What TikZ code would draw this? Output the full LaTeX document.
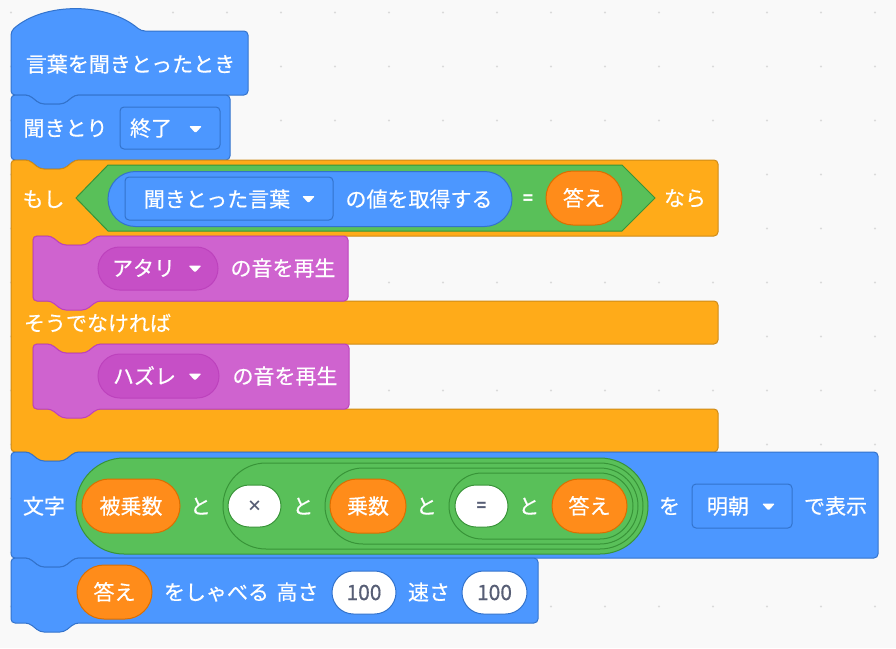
\documentclass[tikz,border=0pt]{standalone}
\usepackage{fontspec}
\setmainfont{Noto Sans CJK JP}
\newfontfamily\jpmed{Noto Sans CJK JP}[FakeBold=0.5]
\usetikzlibrary{shapes.misc}

\definecolor{bgGray}{HTML}{F9F9F9}
\definecolor{dotGray}{HTML}{DADADA}
\definecolor{blueMain}{HTML}{4C97FF}
\definecolor{blueDark}{HTML}{3373CC}
\definecolor{ctrlMain}{HTML}{FFAB19}
\definecolor{ctrlDark}{HTML}{CF8B17}
\definecolor{sndMain}{HTML}{CF63CF}
\definecolor{sndMenu}{HTML}{C64FC6}
\definecolor{sndDark}{HTML}{BD42BD}
\definecolor{opMain}{HTML}{59C059}
\definecolor{opDark}{HTML}{389438}
\definecolor{varMain}{HTML}{FF8C1A}
\definecolor{varDark}{HTML}{DB6E00}
\definecolor{inText}{HTML}{575E75}

\newcommand{\jpsize}{\jpmed\fontsize{21}{21}\selectfont}
% notch on a block top (left to right) and tab on a block bottom (right to left)
\newcommand{\notchR}[2]{-- (#1+18,#2) -- (#1+29,#2+9) -- (#1+53,#2+9) -- (#1+64,#2)}
\newcommand{\notchL}[2]{-- (#1+64,#2) -- (#1+53,#2+9) -- (#1+29,#2+9) -- (#1+18,#2)}
\newcommand{\ddarrow}[2]{\fill[ddtri] (#1-6.5,#2-3.5) -- ++(13,0) -- ++(-6.5,7) -- cycle;}

\tikzset{
  blockblue/.style={fill=blueMain, draw=blueDark, line width=1pt, rounded corners=4pt},
  blockctrl/.style={fill=ctrlMain, draw=ctrlDark, line width=1pt, rounded corners=4pt},
  blocksnd/.style={fill=sndMain, draw=sndDark, line width=1pt, rounded corners=4pt},
  cond/.style={fill=opMain, draw=opDark, line width=1pt},
  lbl/.style={inner sep=0pt, text=white, font=\jpsize, text height=16pt, text depth=0pt},
  varpill/.style={rounded rectangle, inner sep=0pt, fill=varMain, draw=varDark, line width=1pt,
    text=white, font=\jpsize, text height=16pt, text depth=0pt},
  inpill/.style={rounded rectangle, inner sep=0pt, fill=white, draw=#1, line width=1pt,
    text=inText, font=\jpsize, text height=15pt, text depth=0pt},
  joinpill/.style={rounded rectangle, inner sep=0pt, fill=opMain, draw=opDark, line width=1pt},
  ddbox/.style={rectangle, rounded corners=4pt, inner sep=0pt, fill=blueMain, draw=blueDark, line width=1pt},
  ddpill/.style={rounded rectangle, inner sep=0pt, fill=sndMenu, draw=sndDark, line width=1pt},
  ddtri/.style={white, rounded corners=1.2pt},
}

\begin{document}
\begin{tikzpicture}[x=1pt, y=-1pt]
    \fill[bgGray] (0,0) rectangle (896,648);
    \foreach \i in {0,...,16}
        \foreach \j in {0,...,11}
            \fill[dotGray] (11+54*\i, 12.5+54*\j) circle (1.1pt);

    % hat block
    \draw[blockblue] (11,31) .. controls (44,2) and (107,2) .. (141,31) -- (248,31) -- (248,95) \notchL{11}{95} -- (11,95) -- cycle;
    \node[lbl] (whenheard) at (130.5,64) {言葉を聞きとったとき};

    \draw[blockblue] (11,95) \notchR{11}{95} -- (230,95) -- (230,160) \notchL{11}{160} -- (11,160) -- cycle;
    \node[lbl] (listen) at (65.5,128) {聞きとり};
    \node[ddbox, minimum width=100pt, minimum height=42pt] (endmenu) at (170,128) {};
    \node[lbl] (endtx) at (151,128) {終了};
    \ddarrow{195.5}{129.5}

    % if / else
    \draw[blockctrl] (11,160) \notchR{11}{160} -- (718,160) -- (718,236) \notchL{33}{236} -- (33,236) -- (33,301)
        -- (718,301) -- (718,344) \notchL{33}{344} -- (33,344) -- (33,409) -- (718,409) -- (718,452) \notchL{11}{452} -- (11,452) -- cycle;
    \node[lbl] (ifword) at (43.5,199) {もし};
    \draw[cond] (76,198) -- (108,165) -- (622,165) -- (655,198) -- (622,231) -- (108,231) -- cycle;
    \node[rounded rectangle, inner sep=0pt, fill=blueMain, draw=blueDark, line width=1pt,
        minimum width=404pt, minimum height=55pt] (getval) at (310,199) {};
    \node[ddbox, minimum width=208pt, minimum height=43pt] (wordmenu) at (229,198.5) {};
    \node[lbl] (wordtx) at (217,199) {聞きとった言葉};
    \ddarrow{308.5}{199.5}
    \node[lbl] (getvaltx) at (419,199) {の値を取得する};
    \node[lbl, font=\bfseries\fontsize{17}{17}\selectfont, text height=10pt] (eqsign) at (528,199) {=};
    \node[varpill, minimum width=76pt, minimum height=54pt] (answer1) at (584,198) {答え};
    \node[lbl] (thenword) at (685,198) {なら};

    \draw[blocksnd] (33,236) \notchR{33}{236} -- (348,236) -- (348,301) \notchL{33}{301} -- (33,301) -- cycle;
    \node[ddpill, minimum width=120pt, minimum height=43pt] (hitmenu) at (158,268.5) {};
    \node[lbl] (hittx) at (143.5,268) {アタリ};
    \ddarrow{195}{269}
    \node[lbl] (play1) at (283,268) {の音を再生};

    \node[lbl] (elseword) at (97.5,323) {そうでなければ};

    \draw[blocksnd] (33,344) \notchR{33}{344} -- (349,344) -- (349,409) \notchL{33}{409} -- (33,409) -- cycle;
    \node[ddpill, minimum width=121pt, minimum height=44pt] (missmenu) at (158.5,376) {};
    \node[lbl] (misstx) at (144.5,376) {ハズレ};
    \ddarrow{195}{377}
    \node[lbl] (play2) at (285,376) {の音を再生};

    % text display block with nested joins
    \draw[blockblue] (11,452) \notchR{11}{452} -- (878,452) -- (878,558) \notchL{11}{558} -- (11,558) -- cycle;
    \node[lbl] (moji) at (44,506) {文字};
    \node[joinpill, minimum width=572pt, minimum height=96pt] (join1) at (362,506) {};
    \node[varpill, minimum width=98pt, minimum height=54pt] (multiplicand) at (131,506) {被乗数};
    \node[lbl] (to1) at (200.5,506) {と};
    \node[joinpill, minimum width=420pt, minimum height=86pt] (join2) at (433,506) {};
    \node[inpill=opDark, minimum width=53pt, minimum height=42pt, font=\bfseries\fontsize{15}{15}\selectfont, text height=10pt] (times) at (254.5,506) {×};
    \node[lbl] (to2) at (303,506) {と};
    \node[joinpill, minimum width=313pt, minimum height=76pt] (join3) at (481.5,506) {};
    \node[varpill, minimum width=76pt, minimum height=54pt] (multiplier) at (368,506) {乗数};
    \node[lbl] (to3) at (426.5,506) {と};
    \node[joinpill, minimum width=184pt, minimum height=66pt] (join4) at (541,506) {};
    \node[inpill=opDark, minimum width=53pt, minimum height=42pt, font=\bfseries\fontsize{16}{16}\selectfont, text height=10pt] (equals) at (481.5,506) {=};
    \node[lbl] (to4) at (529,506) {と};
    \node[varpill, minimum width=75pt, minimum height=54pt] (answer2) at (589.5,506) {答え};
    \node[lbl] (wo) at (669.5,506) {を};
    \node[ddbox, minimum width=100pt, minimum height=44pt] (fontmenu) at (742,506) {};
    \node[lbl] (fonttx) at (728,506) {明朝};
    \ddarrow{768.5}{507}
    \node[lbl] (showtx) at (835.5,506) {で表示};

    % speak block
    \draw[blockblue] (11,558) \notchR{11}{558} -- (538,558) -- (538,623) \notchL{11}{623} -- (11,623) -- cycle;
    \node[varpill, minimum width=75pt, minimum height=54pt] (answer3) at (114.5,592) {答え};
    \node[lbl] (speak) at (216.5,592) {をしゃべる};
    \node[lbl] (pitch) at (297.5,592) {高さ};
    \node[inpill=blueDark, minimum width=64pt, minimum height=43pt] (pitchval) at (364,592.5) {100};
    \node[lbl] (speed) at (429,592) {速さ};
    \node[inpill=blueDark, minimum width=65pt, minimum height=43pt] (speedval) at (494.5,592.5) {100};
\end{tikzpicture}
\end{document}
